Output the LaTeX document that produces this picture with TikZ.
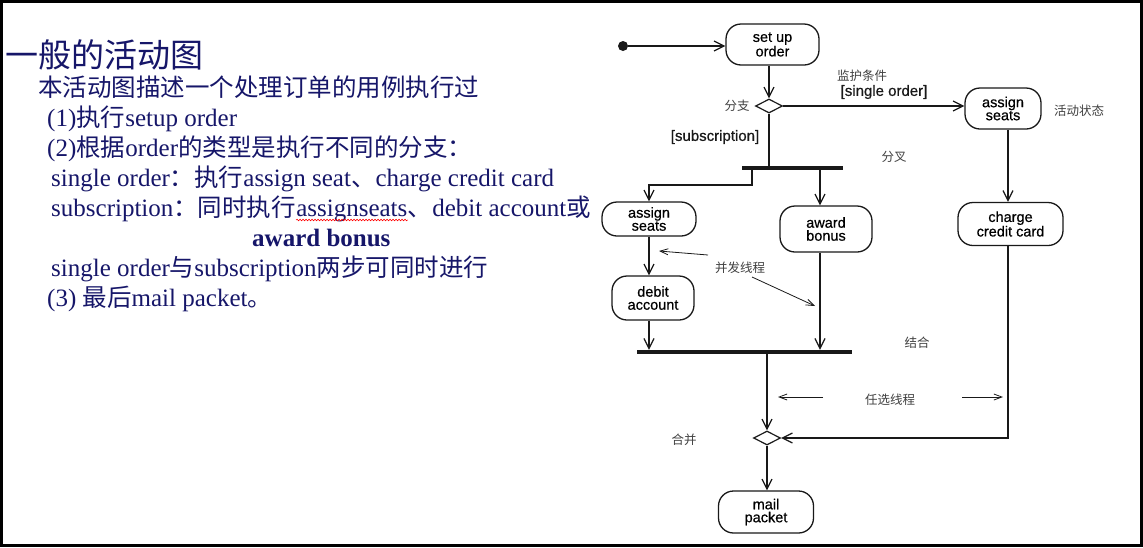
\documentclass[tikz,border=0pt]{standalone}
\usepackage{fontspec}
\setmainfont{Liberation Serif}
\newfontfamily\cjk{Noto Sans CJK SC}
\newfontfamily\dsans[FakeBold=0.6]{Liberation Sans}
\usetikzlibrary{arrows.meta,decorations.pathmorphing,shapes.geometric}
\definecolor{navy}{RGB}{22,22,105}
\definecolor{ink}{RGB}{25,25,25}
\newcommand\zh[1]{{\cjk\fontsize{24.5}{28}\selectfont #1}}
\begin{document}
\begin{tikzpicture}[x=1pt,y=-1pt,
  txt/.style={anchor=base west,inner sep=0pt,text=navy,font=\fontsize{25}{30}\selectfont},
  act/.style={draw=ink,line width=1.3pt,rounded corners=15pt,align=center,inner sep=1pt,
    font=\dsans\fontsize{14.5}{13}\selectfont},
  flow/.style={draw=ink,line width=1.3pt,-{Straight Barb[length=10pt,width=10pt,line width=1.2pt]}},
  note/.style={draw=ink,line width=0.8pt,-{Straight Barb[length=8pt,width=6pt,line width=0.8pt]}},
  lab/.style={inner sep=0pt,font=\dsans\fontsize{15}{15}\selectfont,text=ink},
  zlab/.style={inner sep=0pt,font=\cjk\fontsize{12.5}{13}\selectfont,text=black!75},
  bar/.style={fill=ink,inner sep=0pt,minimum height=4pt},
  dia/.style={draw=ink,line width=1.2pt,shape=diamond,aspect=2,inner sep=0pt,minimum width=27pt,minimum height=14pt}
]
\useasboundingbox (0,0) rectangle (1143,547);
\draw[line width=2.6pt] (1.3,1.3) rectangle (1141.7,545.7);

% ---- text block ----
\node[txt] (title) at (5,67) {\cjk\fontsize{33}{36}\selectfont 一般的活动图};
\node[txt] (l1) at (38,96.5) {\zh{本活动图描述一个处理订单的用例执行过}};
\node[txt] (l2) at (47,126.5) {(1)\zh{执行}setup order};
\node[txt] (l3) at (47,156.5) {(2)\zh{根据}order\zh{的类型是执行不同的分支：}};
\node[txt] (l4) at (51,186.5) {single order\zh{：执行}assign seat\zh{、}charge credit card};
\node[txt] (l5a) at (51,216.5) {subscription\zh{：同时执行}};
\node[txt] (l5b) at (l5a.base east) {assignseats};
\node[txt] (l5c) at (l5b.base east) {\zh{、}debit account\zh{或}};
\draw[red,line width=0.6pt,decorate,decoration={snake,amplitude=0.8pt,segment length=3pt}]
  ([yshift=-3.5pt]l5b.base west) -- ([yshift=-3.5pt]l5b.base east);
\node[txt,font=\bfseries\fontsize{25}{30}\selectfont] (l6) at (252,246.5) {award bonus};
\node[txt] (l7) at (51,276.5) {single order\zh{与}subscription\zh{两步可同时进行}};
\node[txt] (l8) at (47,306.5) {(3) \zh{最后}mail packet\zh{。}};

% ---- diagram nodes ----
\node[circle,fill=ink,inner sep=0pt,minimum size=10pt] (init) at (623,46) {};
\node[act,minimum width=93pt,minimum height=41pt] (setup) at (772.5,44.5) {set up\\order};
\node[dia] (dec) at (769,106) {};
\node[act,minimum width=76pt,minimum height=41pt] (as1) at (1003,108.5) {assign\\seats};
\node[act,minimum width=105pt,minimum height=43pt] (charge) at (1010.5,224) {charge\\credit card};
\node[bar,minimum width=101pt] (fork) at (792.5,168) {};
\node[act,minimum width=94pt,minimum height=34pt] (as2) at (649,219) {assign\\seats};
\node[act,minimum width=92pt,minimum height=46pt] (award) at (826,229) {award\\bonus};
\node[act,minimum width=82pt,minimum height=44pt] (debit) at (653,298) {debit\\account};
\node[bar,minimum width=215pt] (join) at (744.5,352) {};
\node[dia] (merge) at (767,438) {};
\node[act,minimum width=95pt,minimum height=42pt] (mail) at (766,512) {mail\\packet};

% ---- labels ----
\node[zlab] (lbranch) at (737,106) {分支};
\node[zlab] (lguard) at (862,76) {监护条件};
\node[lab] (lsingle) at (884,92) {[single order]};
\node[lab] (lsub) at (715,137) {[subscription]};
\node[zlab] (lfork) at (894,157) {分叉};
\node[zlab] (lstate) at (1079,111) {活动状态};
\node[zlab] (lconc) at (740,268) {并发线程};
\node[zlab] (ljoin) at (917,343) {结合};
\node[zlab] (lopt) at (890,400) {任选线程};
\node[zlab] (lmerge) at (684,440) {合并};

% ---- connectors ----
\coordinate (fl) at (752,168);
\coordinate (fr) at (820,168);
\coordinate (sx) at (1008,0);
\coordinate (js) at (767,352);

\draw[flow] (init) -- (init -| setup.west);
\draw[flow] (setup.south -| dec.north) -- (dec.north);
\draw[flow] (dec.east) -- (dec.east -| as1.west);
\draw[flow] (as1.south -| sx) -- (charge.north -| sx);
\draw[flow] (charge.south -| sx) -- (merge.east -| sx) -- (merge.east);
\draw[draw=ink,line width=1.3pt] (dec.south) -- (dec.south |- fork.north);
\draw[flow] (fl) -- ++(0,17) -| (as2.north);
\draw[flow] (fr) -- (fr |- award.north);
\draw[flow] (as2.south) -- (as2.south |- debit.north);
\draw[flow] (as2.south |- debit.south) -- (as2.south |- join.north);
\draw[flow] (fr |- award.south) -- (fr |- join.north);
\draw[flow] (js) -- (merge.north);
\draw[flow] (merge.south) -- (merge.south |- mail.north);

% ---- annotation arrows ----
\coordinate (c1t) at (708,255);
\coordinate (c1h) at (659,251);
\coordinate (c2t) at (752,277);
\coordinate (c2h) at (815,306);
\coordinate (o1t) at (823,397);
\coordinate (o1h) at (778,397);
\coordinate (o2t) at (962,397);
\coordinate (o2h) at (1003,397);
\draw[note] (c1t) -- (c1h);
\draw[note] (c2t) -- (c2h);
\draw[note] (o1t) -- (o1h);
\draw[note] (o2t) -- (o2h);
\end{tikzpicture}
\end{document}
